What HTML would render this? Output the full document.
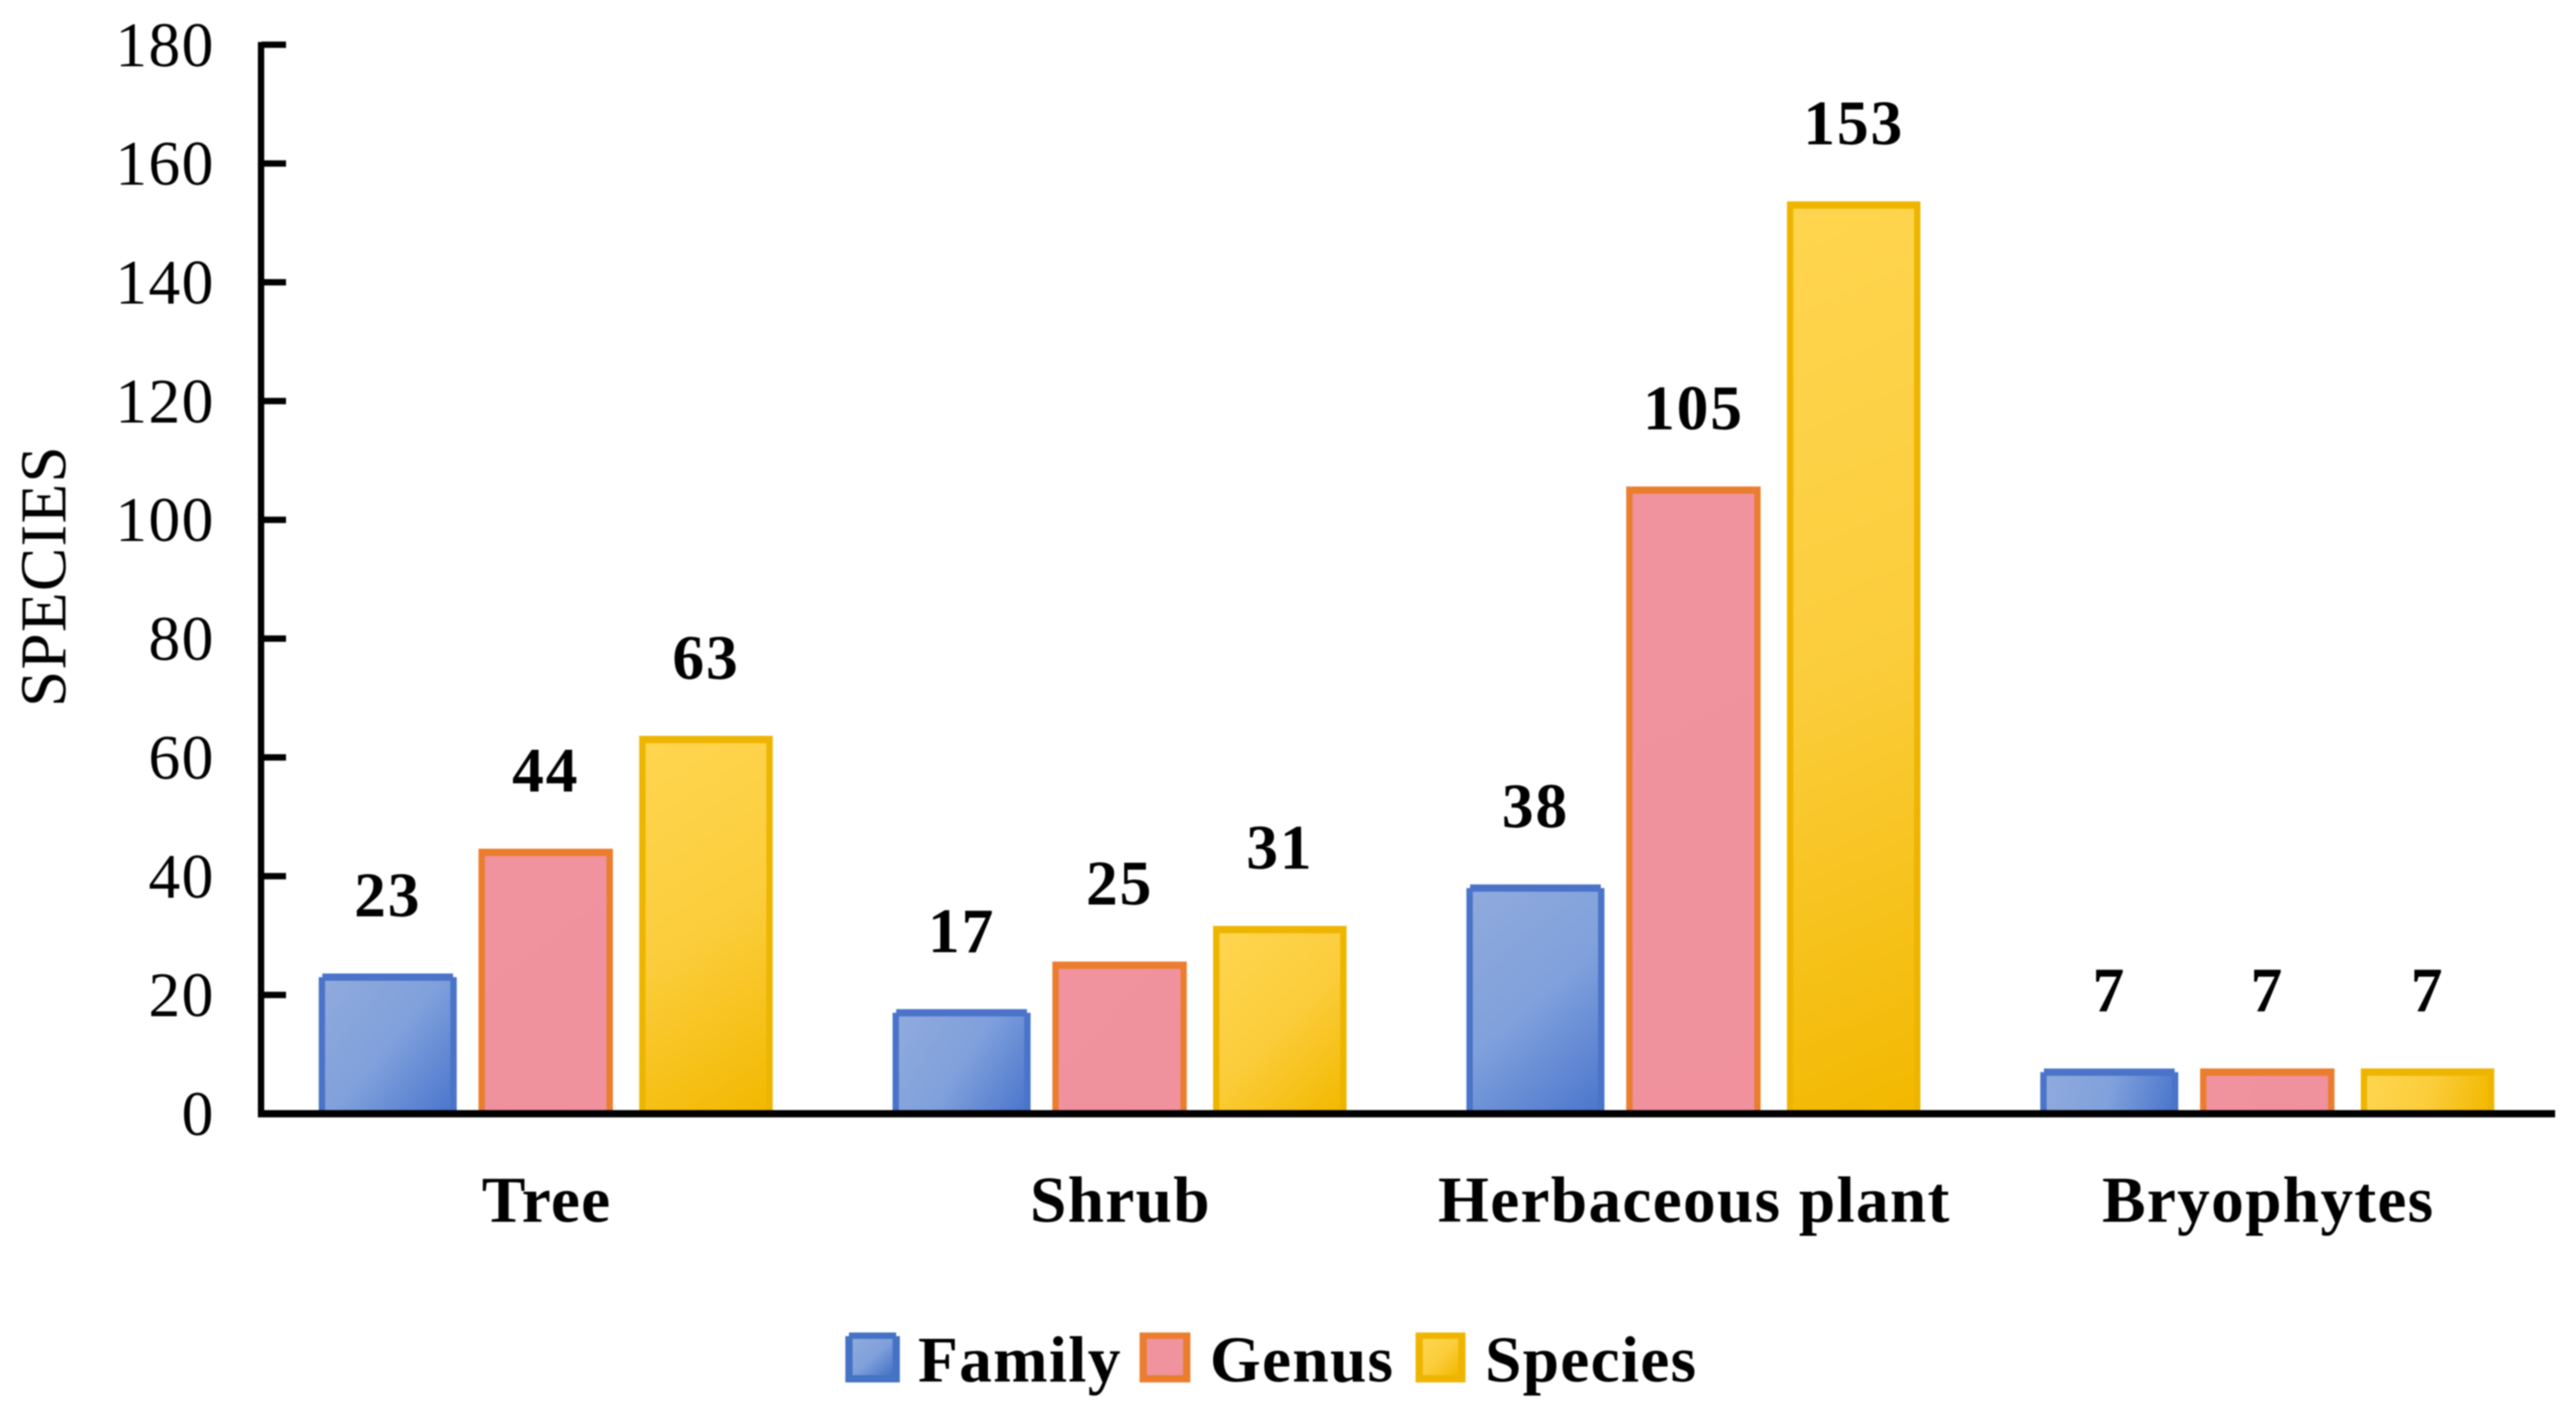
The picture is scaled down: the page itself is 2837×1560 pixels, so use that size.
<!DOCTYPE html>
<html lang="en">
<head>
<meta charset="utf-8">
<title>Species by plant type</title>
<style>
  html, body { margin: 0; padding: 0; background: #fff; }
  body { width: 2837px; height: 1560px; overflow: hidden; }
  svg { display: block; filter: blur(0.7px); }
  text { font-family: "Liberation Serif", serif; fill: #000; }
  .tick { font-size: 70px; text-anchor: end; letter-spacing: 1.5px; }
  .val { font-size: 70px; font-weight: bold; text-anchor: middle; letter-spacing: 2px; }
  .cat { font-size: 72px; font-weight: bold; text-anchor: middle; letter-spacing: 1.4px; }
  .leg { font-size: 72px; font-weight: bold; letter-spacing: 1.4px; }
</style>
</head>
<body>
<svg id="chart" xmlns="http://www.w3.org/2000/svg" width="2837" height="1560" viewBox="0 0 2837 1560">
  <defs id="chart-defs">
    <linearGradient id="grad-family" x1="0" y1="0" x2="1" y2="1">
      <stop offset="0" stop-color="#8faadc"/><stop offset="0.5" stop-color="#80a0dc"/><stop offset="1" stop-color="#4472c4"/>
    </linearGradient>
    <linearGradient id="grad-genus" x1="0" y1="0" x2="1" y2="1">
      <stop offset="0" stop-color="#f0939f"/><stop offset="1" stop-color="#f0929e"/>
    </linearGradient>
    <linearGradient id="grad-species" x1="0" y1="0" x2="1" y2="1">
      <stop offset="0" stop-color="#ffd54f"/><stop offset="0.5" stop-color="#fbcd3c"/><stop offset="1" stop-color="#f2b800"/>
    </linearGradient>
  </defs>

  <rect x="0" y="0" width="2837" height="1560" fill="#ffffff"/>
  <g id="marks"></g>
  <g id="axes"></g>

  <text transform="translate(72,779) rotate(-90)" style="font-size:72px;letter-spacing:1.2px">SPECIES</text>

  <g>
    <g>
      <rect x="931" y="1472" width="60" height="51" fill="#4472c4"/>
      <rect x="935" y="1468" width="52" height="6" fill="#4472c4"/>
      <rect x="939" y="1475" width="44" height="40" fill="url(#grad-family)"/>
      <text class="leg" x="1011" y="1522">Family</text>
    </g>
    <g>
      <rect x="1255" y="1468" width="56" height="55" fill="#ea7d2e"/>
      <rect x="1263" y="1475" width="40" height="40" fill="url(#grad-genus)"/>
      <text class="leg" x="1332.5" y="1522">Genus</text>
    </g>
    <g>
      <rect x="1559" y="1468" width="55" height="55" fill="#eeb500"/>
      <rect x="1567" y="1475" width="39" height="40" fill="url(#grad-species)"/>
      <text class="leg" x="1635.5" y="1522">Species</text>
    </g>
  </g>
</svg>

<script>
const categories = ["Tree", "Shrub", "Herbaceous plant", "Bryophytes"];
const seriesNames = ["family", "genus", "species"];
const familyValues = [23, 17, 38, 7];
const genusValues = [44, 25, 105, 7];
const speciesValues = [63, 31, 153, 7];
const yTicks = [0, 20, 40, 60, 80, 100, 120, 140, 160, 180];

const SVG_NS = "http://www.w3.org/2000/svg";
const plot = { left: 285, bandWidth: 632, zeroY: 1227, pxPerUnit: 6.543 };
function yScale(v) { return plot.zeroY - v * plot.pxPerUnit; }
function bandCenter(i) { return plot.left + plot.bandWidth * (i + 0.5); }
function make(tag, attrs, parent) {
  const el = document.createElementNS(SVG_NS, tag);
  for (const k in attrs) el.setAttribute(k, attrs[k]);
  parent.appendChild(el);
  return el;
}

function seriesGeometry(s) {
  if (s === 0) return { offset: -250, width: 152, stroke: "#4a73c9", stops: ["#8faadc", "#80a0dc", "#4a76cc"], notch: 4 };
  if (s === 1) return { offset: -74, width: 148, stroke: "#ea7d2e", stops: ["#f0939f", "#f0929e", "#f0919d"], notch: 0 };
  return { offset: 103, width: 147, stroke: "#eeb500", stops: ["#ffd54f", "#fbcd3c", "#f2b800"], notch: 0 };
}

function addDiagonalGradient(id, x, y, w, h, stops) {
  const defs = document.getElementById("chart-defs");
  const vx = w + 0.3 * h;
  const vy = h;
  const k = (w * vx + h * vy) / (vx * vx + vy * vy);
  const grad = make("linearGradient", { id: id, gradientUnits: "userSpaceOnUse", x1: x, y1: y, x2: x + vx * k, y2: y + vy * k }, defs);
  make("stop", { offset: 0, "stop-color": stops[0] }, grad);
  make("stop", { offset: 0.5, "stop-color": stops[1] }, grad);
  make("stop", { offset: 1, "stop-color": stops[2] }, grad);
}

function drawBars() {
  const marks = document.getElementById("marks");
  const allSeries = [familyValues, genusValues, speciesValues];
  allSeries.forEach(function (values, s) {
    const g = seriesGeometry(s);
    values.forEach(function (v, i) {
      const left = bandCenter(i) + g.offset;
      const topY = yScale(v) - 4;
      const border = 7;
      const innerX = left + border;
      const innerY = topY + border + 1;
      const innerW = g.width - 2 * border;
      const innerH = plot.zeroY - topY - border - 1;
      const gradId = "bar-grad-" + s + "-" + i;
      addDiagonalGradient(gradId, innerX, innerY, innerW, innerH, g.stops);
      const group = make("g", {}, marks);
      
      
      make("rect", { x: left, y: topY + g.notch, width: g.width, height: plot.zeroY - topY - g.notch, fill: g.stroke }, group);
      make("rect", { x: left + g.notch, y: topY, width: g.width - 2 * g.notch, height: g.notch + 1, fill: g.stroke }, group);
      make("rect", { x: innerX, y: innerY, width: innerW, height: innerH, fill: "url(#" + gradId + ")" }, group);
      const label = make("text", { class: "val", x: left + g.width / 2, y: yScale(v) - 67 }, marks);
      
      
      label.textContent = v;
    });
  });
}

function drawAxes() {
  const axes = document.getElementById("axes");
  const yLine = make("rect", { x: 284, y: yScale(180) - 3, width: 7, height: plot.zeroY + 4 - yScale(180) + 3, fill: "#000" }, axes);
  
  
  const xLine = make("rect", { x: 284, y: plot.zeroY - 4, width: 2814 - 284, height: 8, fill: "#000" }, axes);
  
  

  yTicks.forEach(function (t) {
    const mark = make("rect", { x: 288, y: yScale(t) - 3.5, width: 27, height: 7, fill: "#000" }, axes);
    
    
    const label = make("text", { class: "tick", x: 236.5, y: yScale(t) + 23.5 }, axes);
    
    
    label.textContent = t;
  });

  categories.forEach(function (c, i) {
    const label = make("text", { class: "cat", x: bandCenter(i) + 1, y: 1346 }, axes);
    
    
    label.textContent = c;
  });
}

drawBars();
drawAxes();
</script>
</body>
</html>
